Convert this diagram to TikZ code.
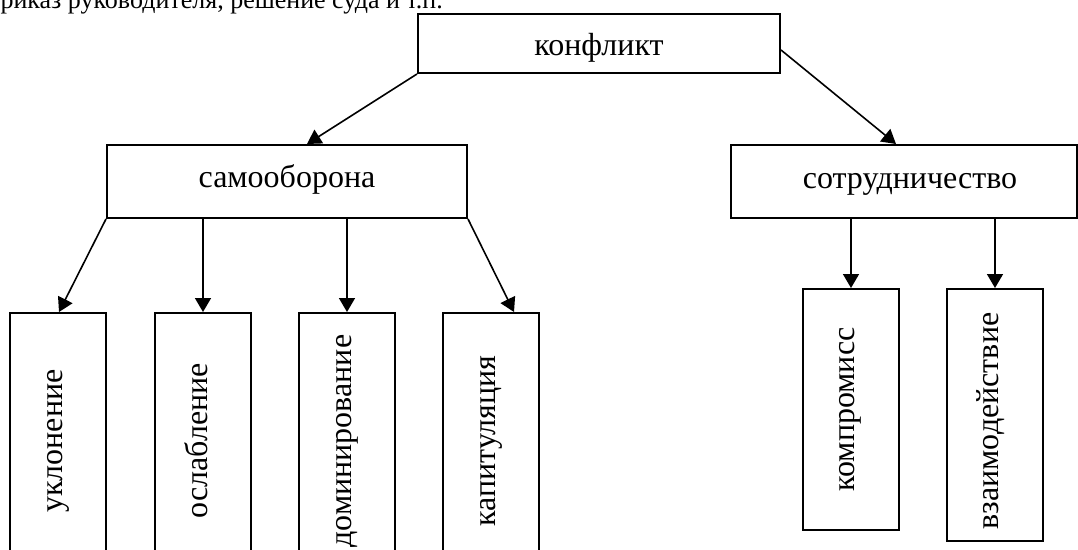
\documentclass[tikz,border=0pt]{standalone}
\usepackage{fontspec}
\setmainfont{Liberation Serif}
\usetikzlibrary{arrows.meta}
\tikzset{
  box/.style={draw, line width=2pt, rectangle, inner sep=0pt, fill=white},
  lbl/.style={font=\fontsize{32}{38}\selectfont, inner sep=0pt, anchor=base},
  vlbl/.style={font=\fontsize{32}{38}\selectfont, inner sep=0pt, rotate=90, anchor=base},
  arr/.style={line width=1.6pt, -{Triangle[length=14pt,width=16pt]}}
}
\begin{document}
\begin{tikzpicture}[x=1pt,y=-1pt]
\useasboundingbox (0,0) rectangle (1078,549);
\clip (0,0) rectangle (1078,549);
\fill[white] (0,0) rectangle (1078,549);
% clipped top text line
\node[font=\fontsize{26}{31}\selectfont, inner sep=0pt, anchor=base east] (top) at (443,8) {приказ руководителя, решение суда и т.п.};
% boxes
\node[box, minimum width=362, minimum height=59] (k) at (599,43.5) {};
\node[lbl] (kt) at (599,55) {конфликт};
\node[box, minimum width=360, minimum height=73] (s) at (287,181.5) {};
\node[lbl] (st) at (287,187) {самооборона};
\node[box, minimum width=346, minimum height=73] (c) at (904,181.5) {};
\node[lbl] (ct) at (910,188) {сотрудничество};
% bottom left boxes
\node[box, minimum width=96, minimum height=256] (u) at (58,441) {};
\node[vlbl] (ut) at (62,441) {уклонение};
\node[box, minimum width=96, minimum height=256] (o) at (203,441) {};
\node[vlbl] (ot) at (207,441) {ослабление};
\node[box, minimum width=96, minimum height=256] (d) at (347,441) {};
\node[vlbl] (dt) at (351,441) {доминирование};
\node[box, minimum width=96, minimum height=256] (p) at (491,441) {};
\node[vlbl] (pt) at (495,441) {капитуляция};
% bottom right boxes
\node[box, minimum width=96, minimum height=241] (m) at (851,409.5) {};
\node[vlbl] (mt) at (854,409.5) {компромисс};
\node[box, minimum width=96, minimum height=252] (w) at (995,415) {};
\node[vlbl] (wt) at (998,421) {взаимодействие};
% connectors
\draw[arr] (k.south west) -- ([xshift=201pt]s.north west);
\draw[arr] ([yshift=-6.5pt]k.east) -- ([xshift=166pt]c.north west);
\draw[arr] (s.south west) -- ([xshift=1pt]u.north);
\draw[arr] (o.north |- s.south) -- (o.north);
\draw[arr] (d.north |- s.south) -- (d.north);
\draw[arr] (s.south east) -- ([xshift=23pt]p.north);
\draw[arr] (m.north |- c.south) -- (m.north);
\draw[arr] (w.north |- c.south) -- (w.north);
\end{tikzpicture}
\end{document}
